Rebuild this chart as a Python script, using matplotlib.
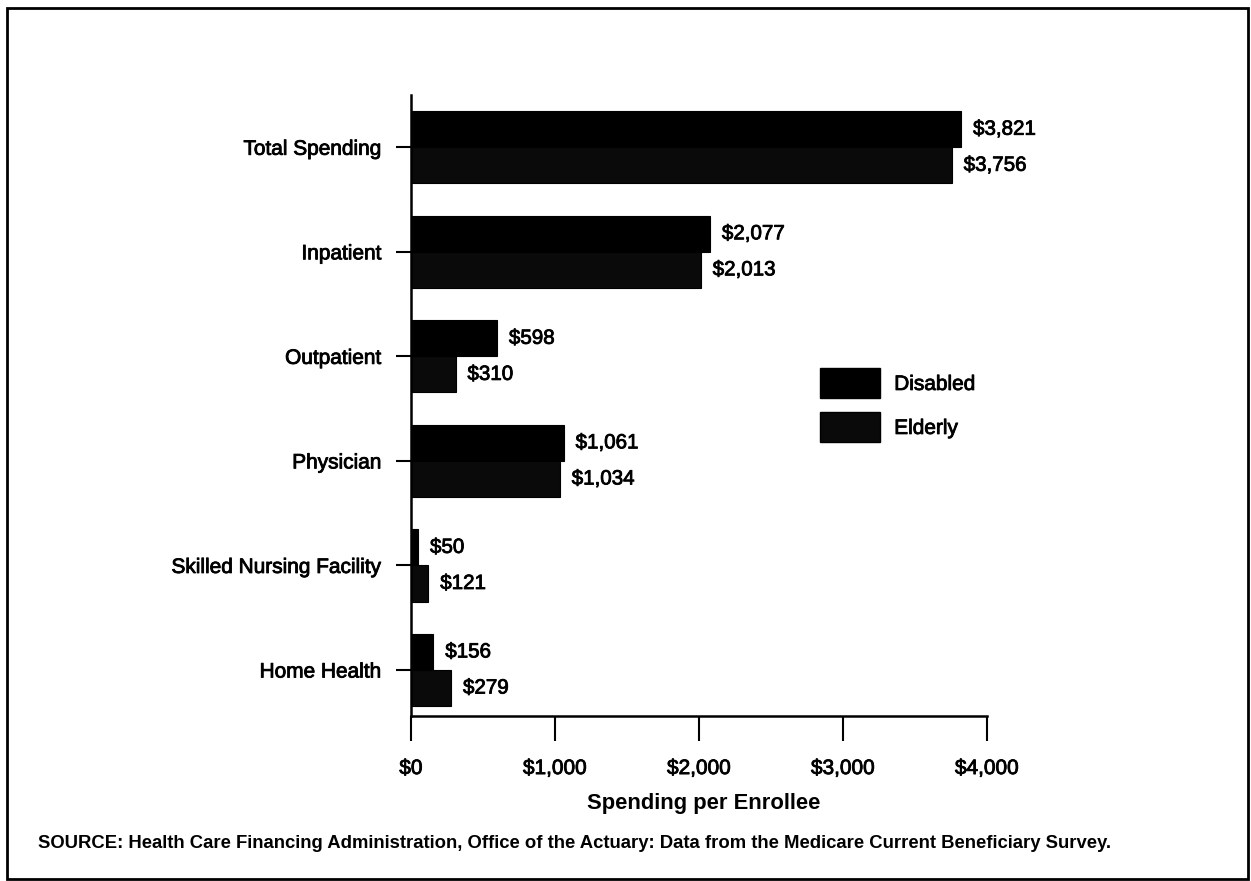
import matplotlib
matplotlib.use("Agg")
import matplotlib.pyplot as plt
from matplotlib.patches import Rectangle, Patch
import matplotlib.patheffects as pe
import numpy as np

categories = ["Total Spending", "Inpatient", "Outpatient", "Physician",
              "Skilled Nursing Facility", "Home Health"]
disabled = [3821, 2077, 598, 1061, 50, 156]
elderly = [3756, 2013, 310, 1034, 121, 279]
series_names = ["Disabled", "Elderly"]
xticks = [0, 1000, 2000, 3000, 4000]
xtick_labels = ["$0", "$1,000", "$2,000", "$3,000", "$4,000"]

plt.rcParams['font.family'] = ['Liberation Sans', 'DejaVu Sans']
heavy = [pe.withStroke(linewidth=0.6, foreground="black")]

W, H = 1251, 881
fig = plt.figure(figsize=(W / 100, H / 100), dpi=100)
fig.patch.set_facecolor("white")

# axes placement in pixel coords
L, R, T, B = 411, 987, 95, 716
ax = fig.add_axes([L / W, 1 - B / H, (R - L) / W, (B - T) / H])

y = np.arange(len(categories))
h = 0.345
ax.barh(y - h / 2, disabled, height=h, color="black", edgecolor="black", linewidth=0.8)
ax.barh(y + h / 2, elderly, height=h, color="#0a0a0a", edgecolor="black", linewidth=0.8)

for i, (d, e) in enumerate(zip(disabled, elderly)):
    ax.annotate(f"${d:,}", (d, i - h / 2), xytext=(8.5, 0), textcoords="offset points",
                va="center", ha="left", fontsize=14.8, color="black", path_effects=heavy)
    ax.annotate(f"${e:,}", (e, i + h / 2), xytext=(8.5, 0), textcoords="offset points",
                va="center", ha="left", fontsize=14.8, color="black", path_effects=heavy)

ax.set_xlim(0, 4000)
ax.set_ylim(5.44, -0.5)
ax.set_yticks(y)
ax.set_yticklabels(categories, fontsize=15, path_effects=heavy)
ax.set_xticks(xticks)
ax.set_xticklabels(xtick_labels, fontsize=15, path_effects=heavy)
ax.tick_params(axis="y", length=11, width=1.5, pad=10, color="black")
ax.tick_params(axis="x", length=18, width=1.5, pad=13, color="black")
for s in ["top", "right"]:
    ax.spines[s].set_visible(False)
for s in ["left", "bottom"]:
    ax.spines[s].set_linewidth(1.8)
    ax.spines[s].set_color("black")

ax.set_xlabel("Spending per Enrollee", fontsize=15.8, fontweight="bold", labelpad=11)
ax.xaxis.set_label_coords((704 - L) / (R - L), -0.12)
ax.xaxis.label.set_va("center")
ax.xaxis.set_label_coords((704 - L) / (R - L), -(803 - B) / (B - T))

handles = [Patch(facecolor="black", edgecolor="black"),
           Patch(facecolor="#0a0a0a", edgecolor="black")]
leg = fig.legend(handles, series_names, loc="upper left",
                 bbox_to_anchor=(814 / W, 1 - 362 / H), frameon=False,
                 fontsize=15, handlelength=2.85, handleheight=1.84,
                 handletextpad=0.7, labelspacing=0.67, borderaxespad=0,
                 borderpad=0.3)
for t in leg.get_texts():
    t.set_path_effects(heavy)

fig.text(38 / W, 1 - 843 / H,
         "SOURCE: Health Care Financing Administration, Office of the Actuary: Data from the Medicare Current Beneficiary Survey.",
         fontsize=13.3, fontweight="bold", ha="left", va="center")

fig.patches.append(Rectangle((7 / W, 1 - 879 / H), (1248 - 7) / W, (879 - 8) / H,
                             transform=fig.transFigure, fill=False,
                             edgecolor="black", linewidth=2))

fig.savefig("out.png", dpi=100, facecolor="white")
